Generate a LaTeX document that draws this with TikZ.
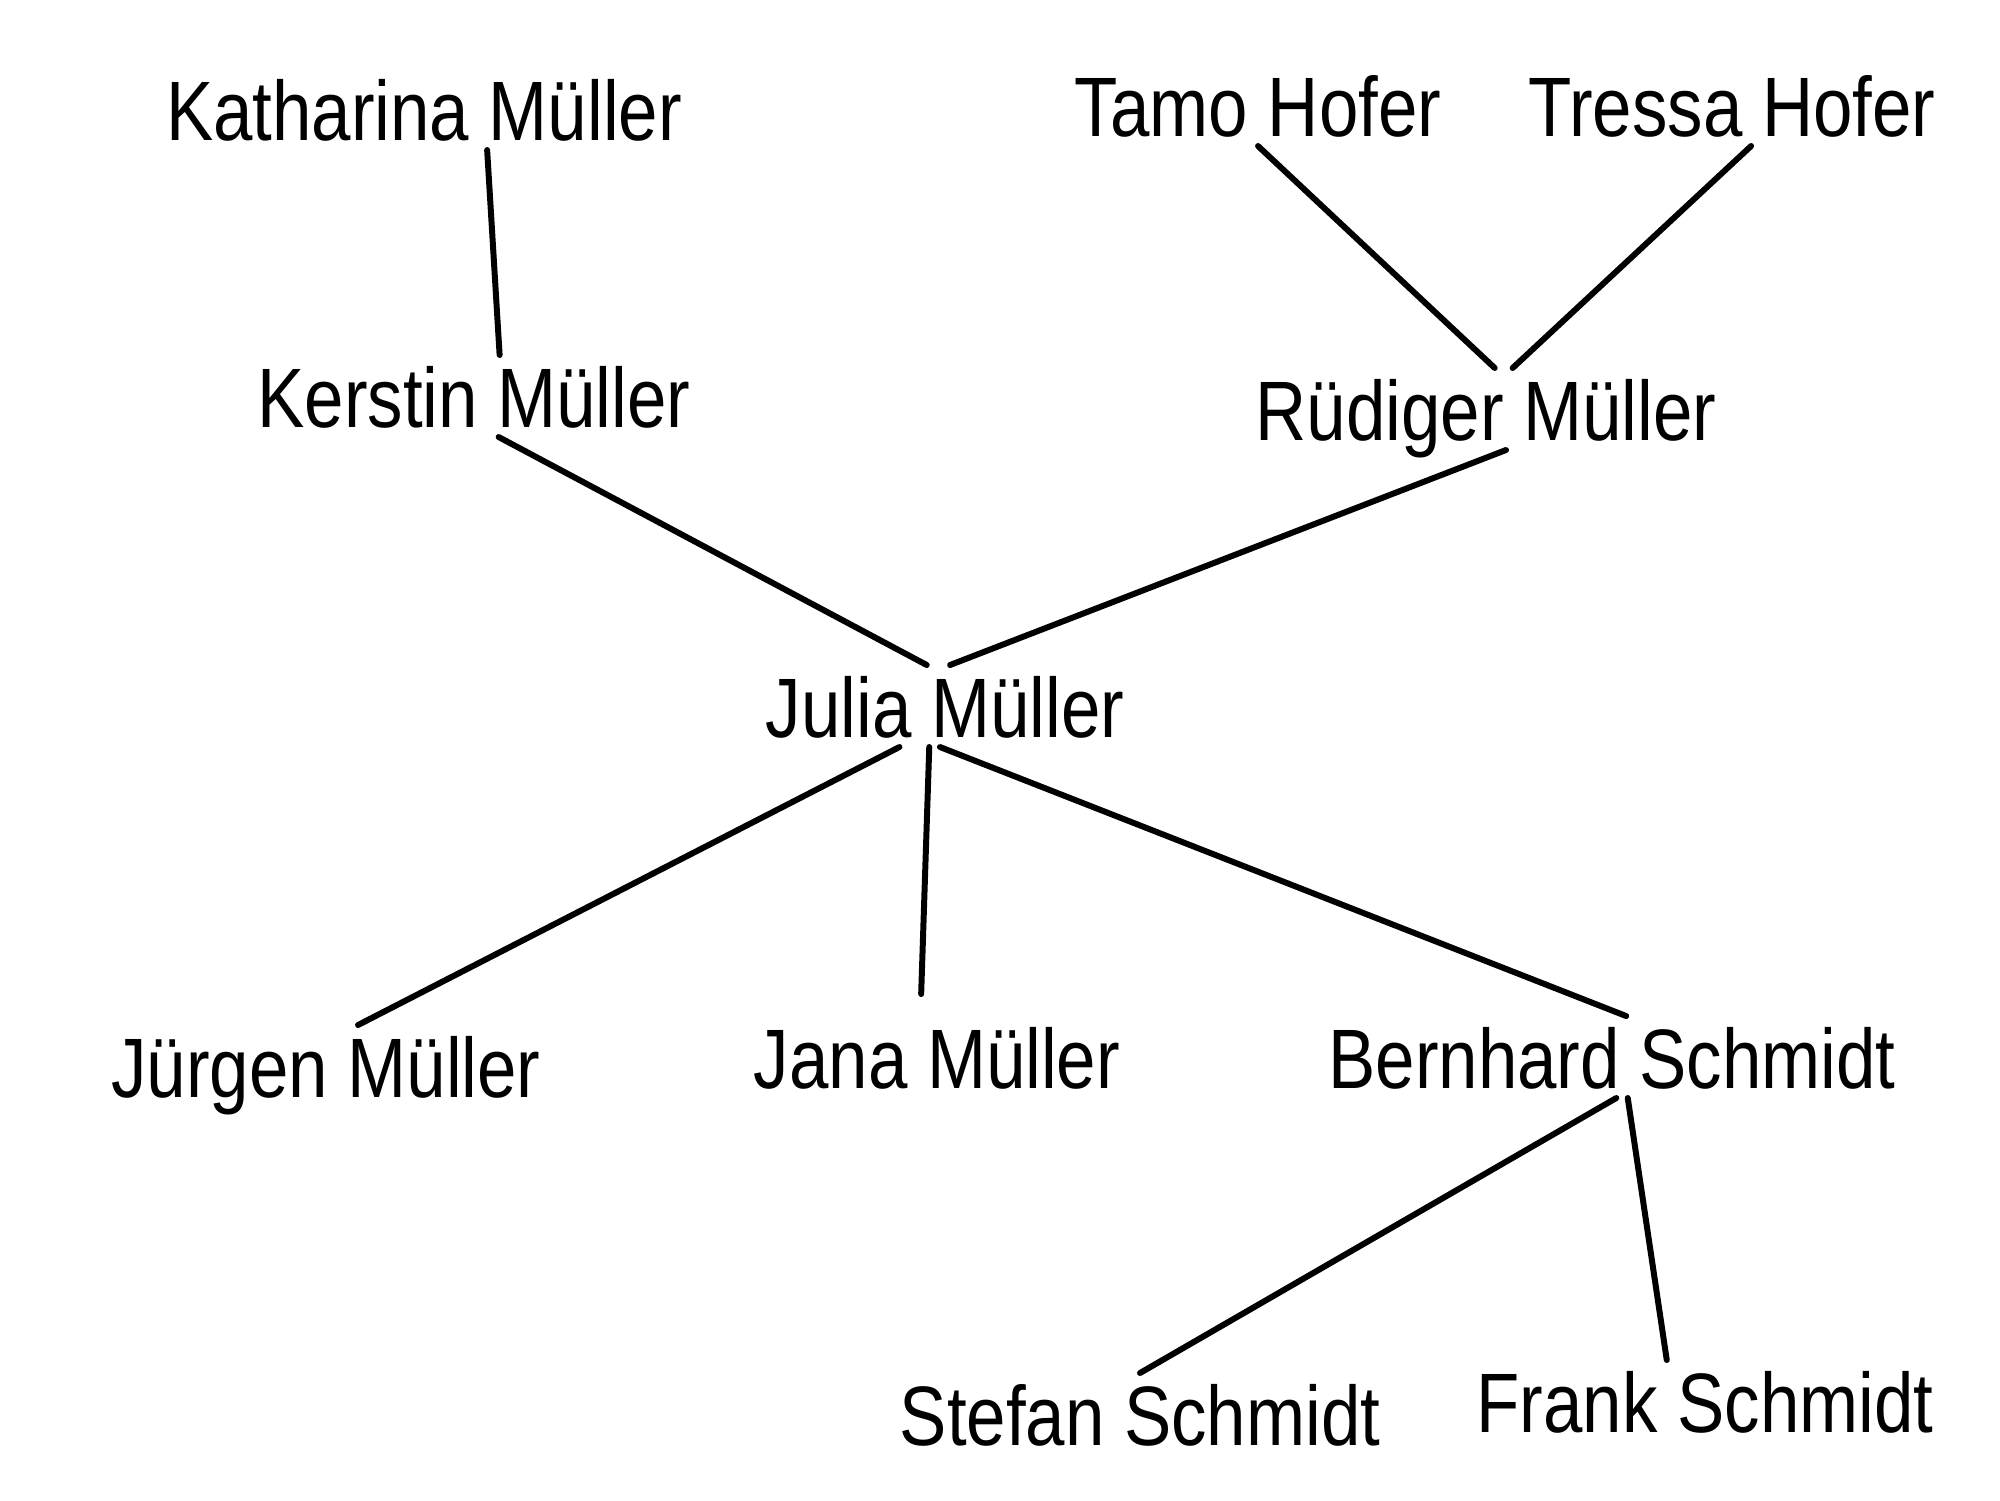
\documentclass[tikz,border=0pt]{standalone}
\usepackage{fontspec}
\setmainfont{Liberation Sans}[FakeStretch=0.84]
\usepackage{tikz}

\begin{document}
\begin{tikzpicture}[
    person/.style={font=\fontsize{24}{28}\selectfont, anchor=base,
        text height=0.62cm, text depth=0pt, inner sep=0.1cm, outer sep=0pt},
    tie/.style={line width=1.7pt, line cap=round}
]
    % Rahmen
    \useasboundingbox (0,0) rectangle (20,-15);

    % Großeltern
    \node[person] (kath)   at (4.24,-1.40)  {Katharina Müller};
    \node[person] (tamo)   at (12.58,-1.36) {Tamo Hofer};
    \node[person] (tressa) at (17.32,-1.36) {Tressa Hofer};

    % Eltern
    \node[person] (kerstin)  at (4.74,-4.27)  {Kerstin Müller};
    \node[person] (ruediger) at (14.86,-4.40) {Rüdiger Müller};

    % Julia
    \node[person] (julia) at (9.45,-7.37) {Julia Müller};

    % Kinder
    \node[person] (juergen)  at (3.26,-10.97)  {Jürgen Müller};
    \node[person] (jana)     at (9.37,-10.88)  {Jana Müller};
    \node[person] (bernhard) at (16.12,-10.88) {Bernhard Schmidt};

    % Enkel
    \node[person] (stefan) at (11.40,-14.45) {Stefan Schmidt};
    \node[person] (frank)  at (17.05,-14.32) {Frank Schmidt};

    % Linien
    \draw[tie] (kath.-33) -- (kerstin.58);
    \draw[tie] (tamo.south) -- (ruediger.78);
    \draw[tie] (tressa.-65) -- (ruediger.57);
    \draw[tie] (kerstin.-59) -- (julia.114);
    \draw[tie] (ruediger.-64) -- (julia.83);
    \draw[tie] (julia.-138) -- (juergen.52);
    \draw[tie, shorten >=0.22cm] (julia.-111) -- (jana.112);
    \draw[tie] (julia.-97) -- (bernhard.71);
    \draw[tie] (bernhard.-84) -- (stefan.north);
    \draw[tie] (bernhard.-69) -- (frank.133);
\end{tikzpicture}
\end{document}
